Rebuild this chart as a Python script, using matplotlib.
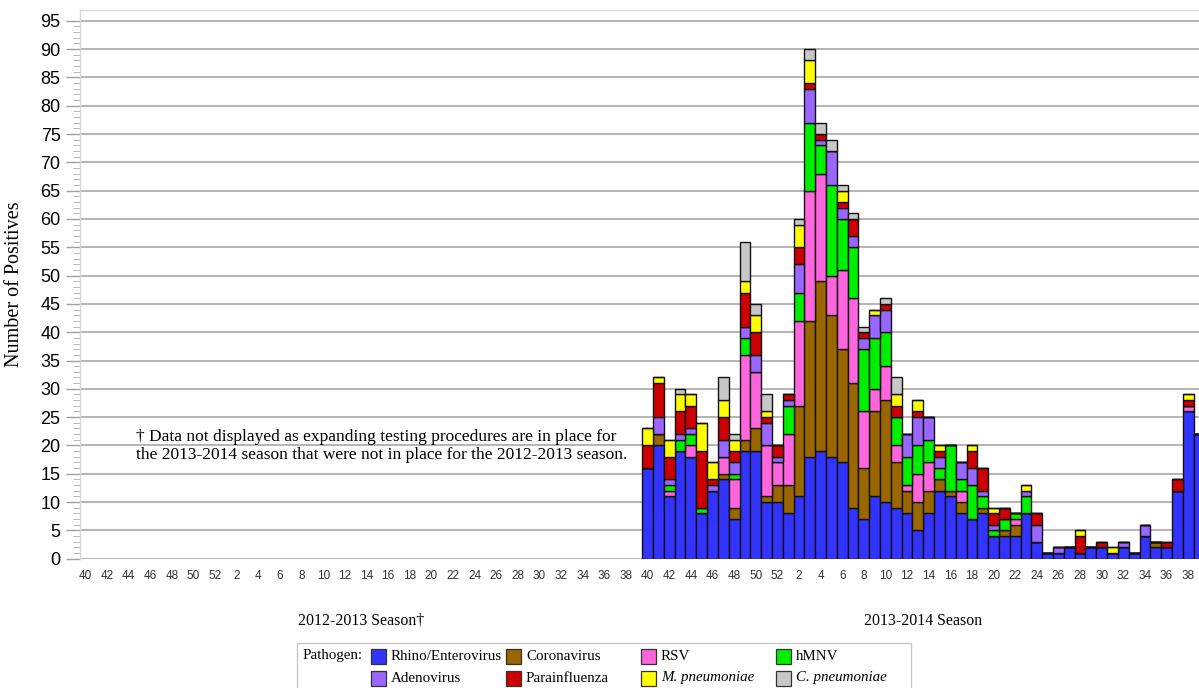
import numpy as np
import matplotlib.pyplot as plt
from matplotlib.patches import Rectangle

W, H = 1199, 688

# surveillance weeks of one season (40..52, then 1..39)
weeks = list(range(40, 53)) + list(range(1, 40))

# 2013-2014 season counts, weeks 40..52, 1..39
rhino = [16, 20, 11, 19, 18, 8, 12, 14, 7, 19, 19, 10, 10,
         8, 11, 18, 19, 18, 17, 9, 7, 11, 10, 9, 8, 5, 8, 12, 11, 8, 7, 8, 4,
         4, 4, 8, 3, 1, 1, 2, 1, 2, 2, 1, 2, 1, 4, 2, 2, 12, 26, 22]
corona = [0, 2, 0, 0, 0, 0, 0, 1, 2, 2, 4, 1, 3,
          5, 16, 24, 30, 25, 20, 22, 9, 15, 18, 8, 4, 5, 4, 2, 1, 2, 0, 1, 0,
          1, 2, 0, 0, 0, 0, 0, 0, 0, 0, 0, 0, 0, 0, 1, 0, 0, 0, 0]
rsv = [0, 0, 1, 0, 2, 0, 0, 3, 5, 15, 10, 9, 4,
       9, 15, 23, 19, 7, 14, 15, 10, 4, 6, 3, 1, 5, 5, 0, 0, 2, 0, 0, 0,
       0, 1, 0, 0, 0, 0, 0, 0, 0, 0, 0, 0, 0, 0, 0, 0, 0, 1, 0]
hmnv = [0, 0, 1, 2, 2, 1, 0, 0, 1, 3, 0, 0, 0,
        5, 5, 12, 5, 16, 9, 9, 11, 9, 6, 5, 5, 5, 4, 2, 8, 2, 6, 2, 1,
        2, 1, 3, 0, 0, 0, 0, 0, 0, 0, 0, 0, 0, 0, 0, 0, 0, 0, 0]
adeno = [0, 3, 1, 1, 1, 0, 1, 3, 2, 2, 3, 4, 1,
         1, 5, 6, 1, 6, 2, 2, 2, 4, 4, 0, 4, 5, 4, 2, 0, 3, 3, 1, 1,
         0, 0, 1, 3, 0, 1, 0, 0, 0, 0, 0, 1, 0, 2, 0, 0, 0, 0, 0]
para = [4, 6, 4, 4, 4, 10, 1, 4, 2, 6, 4, 1, 2,
        1, 3, 1, 1, 0, 1, 3, 1, 0, 1, 2, 0, 1, 0, 1, 0, 0, 3, 4, 2,
        2, 0, 0, 2, 0, 0, 0, 3, 0, 1, 0, 0, 0, 0, 0, 1, 2, 1, 0]
mpneu = [3, 1, 3, 3, 2, 5, 3, 3, 2, 2, 3, 1, 0,
         0, 4, 4, 0, 0, 2, 0, 0, 1, 0, 2, 0, 2, 0, 1, 0, 0, 1, 0, 1,
         0, 0, 1, 0, 0, 0, 0, 1, 0, 0, 1, 0, 0, 0, 0, 0, 0, 1, 0]
cpneu = [0, 0, 0, 1, 0, 0, 0, 4, 1, 7, 2, 3, 0,
         0, 1, 2, 2, 2, 1, 1, 1, 0, 1, 3, 0, 0, 0, 0, 0, 0, 0, 0, 0,
         0, 0, 0, 0, 0, 0, 0, 0, 0, 0, 0, 0, 0, 0, 0, 0, 0, 0, 0]

pathogens = ["Rhino/Enterovirus", "Coronavirus", "RSV", "hMNV",
             "Adenovirus", "Parainfluenza", "M. pneumoniae", "C. pneumoniae"]
series = [rhino, corona, rsv, hmnv, adeno, para, mpneu, cpneu]
colors = ["#3333ff", "#996600", "#ff66dd", "#00ee00",
          "#9966ff", "#cc0000", "#ffff00", "#c8c8c8"]

sans = "Liberation Sans"
serif = "Liberation Serif"


def fx(px):
    return px / W


def fy(py):
    return 1 - py / H


fig = plt.figure(figsize=(W / 100, H / 100), dpi=100)
ax = fig.add_axes([fx(80), fy(558.7), (W - 80) / W, (558.7 - 10) / H])

# season 1 is not shown, season 2 starts at position 52
x2 = np.arange(52, 104)
bottom = np.zeros(len(x2))
for vals, c in zip(series, colors):
    vals = np.array(vals, dtype=float)
    ax.bar(x2, vals, width=1.0, bottom=bottom, color=c,
           edgecolor="#111111", linewidth=1.0, zorder=3)
    bottom += vals

ax.set_xlim(-0.5, 103.0)
ax.set_ylim(0, 96.9)

ax.set_yticks(range(0, 96, 5))
ax.set_yticks(range(0, 96), minor=True)
ax.yaxis.grid(True, which="major", color="#a0a0a0", linewidth=1.1, zorder=0)
ax.tick_params(axis="y", which="major", length=10, width=1.0, color="#a0a0a0",
               pad=4, labelsize=13, labelcolor="#000000")
ax.tick_params(axis="y", which="minor", length=5, width=0.7, color="#bbbbbb")
for lab in ax.get_yticklabels():
    lab.set_fontfamily(sans)

pos, labs = [], []
for s in (0, 52):
    for k, w in enumerate(weeks):
        if w % 2 == 0:
            pos.append(s + k)
            labs.append(str(w))
ax.set_xticks(pos)
ax.set_xticklabels(labs, fontfamily=sans)
ax.tick_params(axis="x", length=0, pad=8, labelsize=8.5, labelcolor="#333333")

for side in ("right", "bottom"):
    ax.spines[side].set_visible(False)
for side in ("top", "left"):
    ax.spines[side].set_color("#d8d8d8")
    ax.spines[side].set_linewidth(1.0)

ax.set_ylabel("Number of Positives", fontfamily=serif, fontsize=14.5, labelpad=12)

# season captions below the week labels
tr = ax.get_xaxis_transform()
ax.text(25.5, -0.113, "2012-2013 Season\u2020", transform=tr, ha="center", va="center",
        fontfamily=serif, fontsize=11.4)
ax.text(77.5, -0.113, "2013-2014 Season", transform=tr, ha="center", va="center",
        fontfamily=serif, fontsize=11.4)

fig.text(fx(136), fy(446), "\u2020 Data not displayed as expanding testing procedures are in place for\n"
         "the 2013-2014 season that were not in place for the 2012-2013 season.",
         ha="left", va="center", fontfamily=serif, fontsize=12.5, linespacing=1.2)

# legend box
fig.add_artist(Rectangle((fx(297), fy(700)), (911 - 297) / W, (700 - 643) / H,
                         transform=fig.transFigure, facecolor="white",
                         edgecolor="#c8c8c8", linewidth=1.0))
fig.text(fx(303), fy(656), "Pathogen:", ha="left", va="center",
         fontfamily=serif, fontsize=10.8)
for i, (name, c) in enumerate(zip(pathogens, colors)):
    col, row = i % 4, i // 4
    x0 = 371 + col * 135
    y0 = 656 + row * 22
    fig.add_artist(Rectangle((fx(x0), fy(y0 + 7.5)), 15 / W, 15 / H,
                             transform=fig.transFigure, facecolor=c,
                             edgecolor="#333333", linewidth=0.9))
    style = "italic" if "pneumoniae" in name else "normal"
    fig.text(fx(x0 + 20), fy(y0), name, ha="left", va="center",
             fontfamily=serif, fontsize=10.8, fontstyle=style)

fig.savefig("out.png", dpi=100)
